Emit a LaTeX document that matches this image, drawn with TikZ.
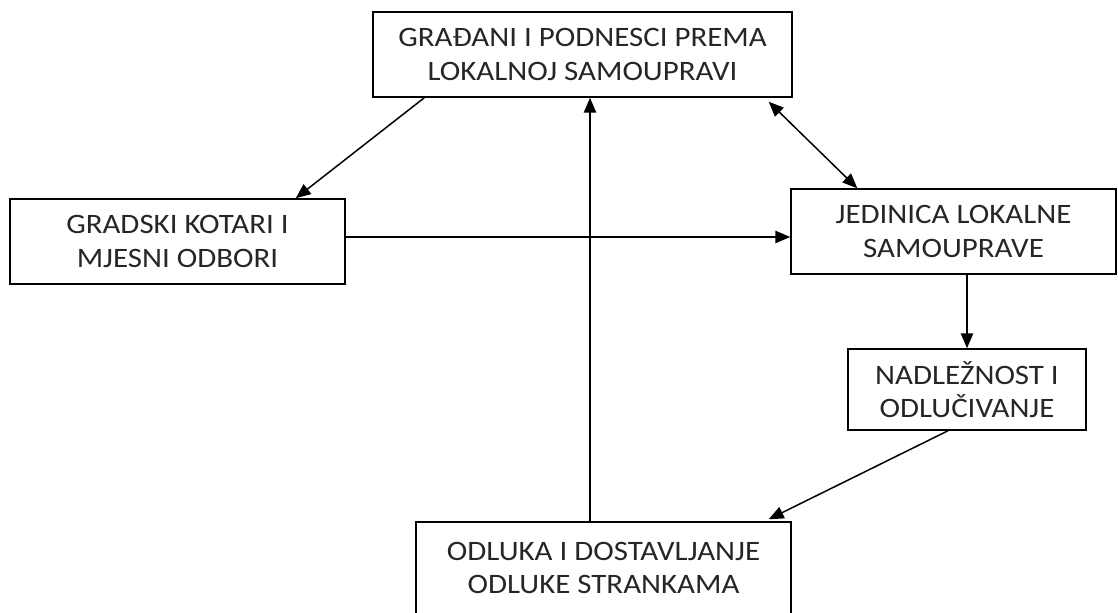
\documentclass[tikz,border=0pt]{standalone}
\usepackage{fontspec}
\setmainfont{Carlito}
\newfontfamily\boxfont[FakeStretch=1.1]{Carlito}
\usetikzlibrary{arrows.meta,calc}

\begin{document}
\begin{tikzpicture}[x=0.02cm,y=-0.02cm,
    box/.style={draw,line width=0.85pt,align=center,inner sep=0pt,
      font=\boxfont\fontsize{16}{19}\selectfont,text=black!85},
    arr/.style={line width=0.85pt,-{Triangle[length=8.5pt,width=7pt]}},
    darr/.style={line width=0.85pt,{Triangle[length=8.5pt,width=7pt]}-{Triangle[length=8.5pt,width=7pt]}}]

        \useasboundingbox (0,0) rectangle (1118,612);

        \node[box,minimum width=8.38cm,minimum height=1.70cm] (gradani) at (582.5,54.5)
            {GRAĐANI I PODNESCI PREMA\\LOKALNOJ SAMOUPRAVI};
        \node[box,minimum width=6.70cm,minimum height=1.70cm] (kotari) at (177.5,241.5)
            {GRADSKI KOTARI I\\MJESNI ODBORI};
        \node[box,minimum width=6.50cm,minimum height=1.70cm] (jedinica) at (953.5,231.5)
            {JEDINICA LOKALNE\\SAMOUPRAVE};
        \node[box,minimum width=4.76cm,minimum height=1.62cm] (nadleznost) at (967,389.5)
            {NADLEŽNOST I\\ODLUČIVANJE};
        \node[box,minimum width=7.50cm,minimum height=1.84cm] (odluka) at (603.5,568)
            {ODLUKA I DOSTAVLJANJE\\ODLUKE STRANKAMA};

        % veze
        \draw[arr] ($(gradani.south west)+(52,0)$) -- ($(kotari.north east)+(-50,0)$);
        \draw[arr] ($(kotari.east)+(0,-4.5)$) -- ($(kotari.east -| jedinica.west)+(0,-4.5)$);
        \draw[darr] ($(gradani.south east)+(-24,4)$) -- ($(jedinica.north west)+(67,0)$);
        \draw[arr] (nadleznost.north |- jedinica.south) -- (nadleznost.north);
        \draw[arr] ($(nadleznost.south)+(-19,0)$) -- ($(odluka.north east)+(-23,-2)$);
        \coordinate (gore) at ($(odluka.north)+(-13.5,0)$);
        \draw[arr] (gore) -- (gore |- gradani.south);

\end{tikzpicture}
\end{document}
